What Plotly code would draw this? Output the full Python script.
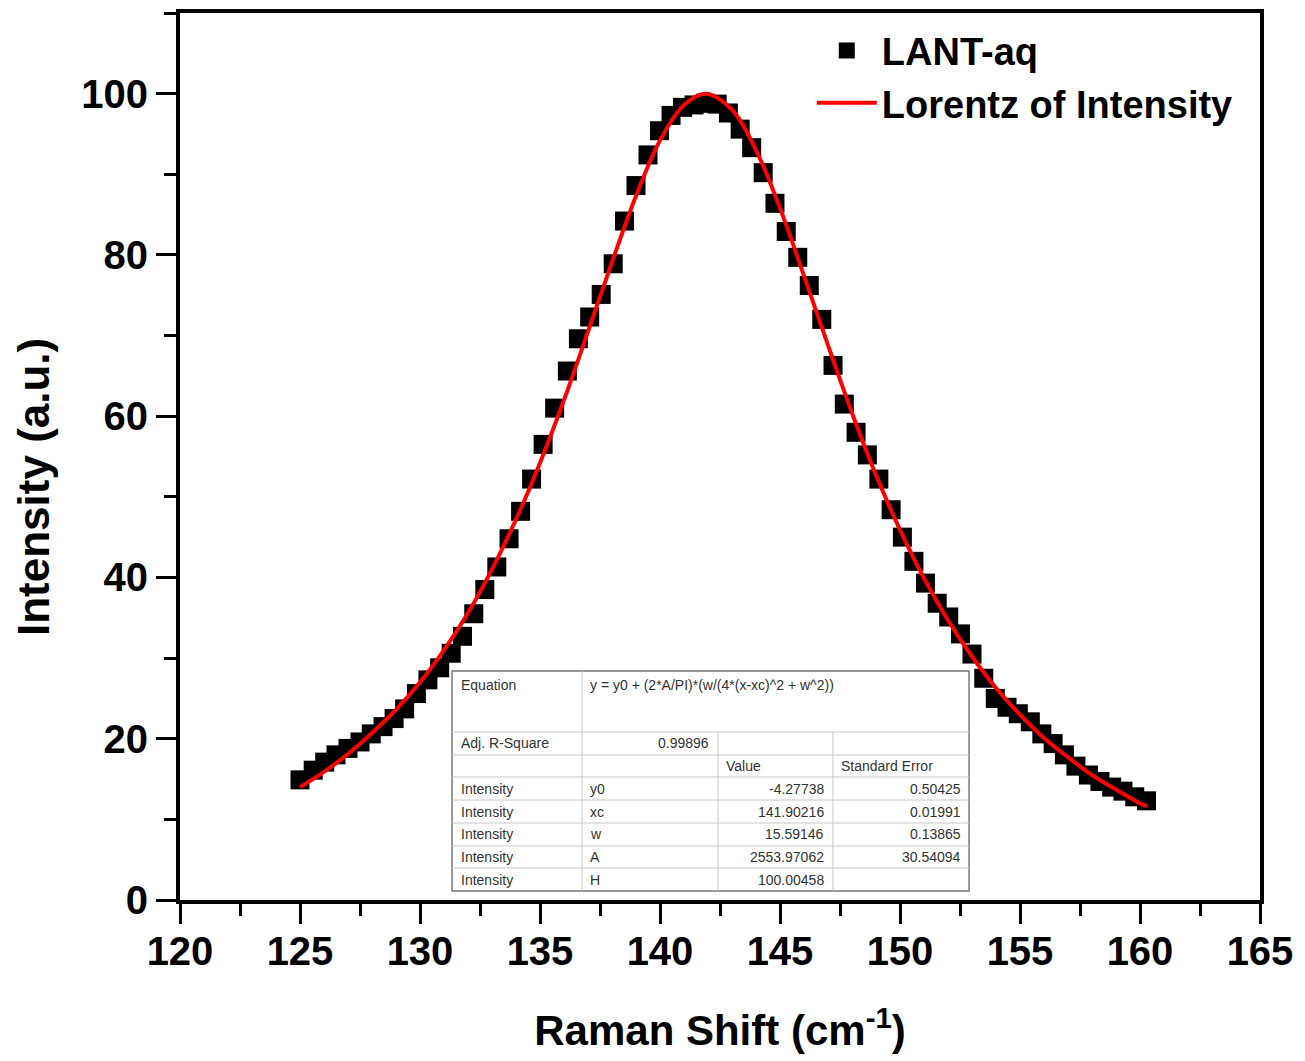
import plotly.graph_objects as go

# ---------------- data ----------------
raman_shift = [125.0, 125.55, 126.03, 126.5, 127.0, 127.5, 127.97, 128.46, 128.92, 129.36,
               129.85, 130.33, 130.82, 131.3, 131.77, 132.24, 132.7, 133.2, 133.71, 134.19,
               134.65, 135.13, 135.61, 136.14, 136.6, 137.07, 137.55, 138.05, 138.52, 139.0,
               139.5, 139.98, 140.46, 140.94, 141.42, 141.9, 142.38, 142.85, 143.34, 143.82,
               144.3, 144.79, 145.26, 145.74, 146.22, 146.74, 147.21, 147.68, 148.17, 148.64,
               149.12, 149.63, 150.1, 150.58, 151.06, 151.55, 152.03, 152.52, 153.0, 153.49,
               153.97, 154.46, 154.93, 155.43, 155.91, 156.38, 156.85, 157.33, 157.85, 158.33,
               158.82, 159.29, 159.78, 160.27]
intensity = [14.9, 16.1, 17.1, 18.0, 18.8, 19.6, 20.6, 21.5, 22.5, 23.7,
             25.6, 27.3, 28.8, 30.6, 32.7, 35.5, 38.5, 41.3, 44.8, 48.2,
             52.2, 56.5, 61.0, 65.6, 69.6, 72.3, 75.1, 78.9, 84.2, 88.6,
             92.4, 95.4, 97.3, 98.3, 98.6, 98.8, 98.7, 97.6, 95.6, 93.3,
             90.2, 86.4, 82.9, 79.7, 76.2, 72.0, 66.3, 61.5, 58.0, 55.2,
             52.2, 48.4, 45.0, 42.0, 39.3, 36.8, 35.1, 33.0, 30.5, 27.5,
             25.0, 23.9, 23.1, 22.1, 20.6, 19.4, 18.0, 16.6, 15.5, 14.7,
             14.0, 13.5, 12.8, 12.3]

fit_x = [125, 126, 127, 128, 129, 130, 131, 132, 133, 134, 135, 136, 137, 138, 139, 140,
         141, 141.9, 143, 144, 145, 146, 147, 148, 149, 150, 151, 152, 153, 154, 155, 156,
         157, 158, 159, 160, 160.3]
fit_y = [14.0, 15.9, 18.1, 20.7, 23.6, 27.0, 31.0, 35.6, 41.0, 47.2, 54.2, 62.0, 70.5, 79.1,
         87.3, 94.2, 98.6, 100.0, 98.0, 93.0, 85.8, 77.4, 68.8, 60.4, 52.7, 45.9, 39.9, 34.7,
         30.2, 26.3, 23.0, 20.1, 17.7, 15.5, 13.7, 12.0, 11.6]

series_names = ["LANT-aq", "Lorentz of Intensity"]

x_tick_vals = [120, 125, 130, 135, 140, 145, 150, 155, 160, 165]
y_tick_vals = [0, 20, 40, 60, 80, 100]

x_title = "Raman Shift (cm<sup>-1</sup>)"
y_title = "Intensity (a.u.)"

equation_text = "y = y0 + (2*A/PI)*(w/(4*(x-xc)^2 + w^2))"
adj_r_square = "0.99896"
param_header = ["", "", "Value", "Standard Error"]
param_rows = [
    ["Intensity", "y0", "-4.27738", "0.50425"],
    ["Intensity", "xc", "141.90216", "0.01991"],
    ["Intensity", "w", "15.59146", "0.13865"],
    ["Intensity", "A", "2553.97062", "30.54094"],
    ["Intensity", "H", "100.00458", ""],
]

# ---------------- figure ----------------
FONT = "Liberation Sans, Arial, sans-serif"

fig = go.Figure()
fig.add_trace(go.Scatter(
    x=raman_shift, y=intensity, mode="markers", name=series_names[0],
    marker=dict(symbol="square", size=19, color="black", line=dict(width=0)),
))
fig.add_trace(go.Scatter(
    x=fit_x, y=fit_y, mode="lines", name=series_names[1],
    line=dict(color="#ff0000", width=4, shape="spline"),
))

axis_common = dict(
    showline=True, linecolor="black", linewidth=4, mirror=True,
    ticks="outside", ticklen=20, tickwidth=3, tickcolor="black",
    showgrid=False, zeroline=False,
    tickfont=dict(family=FONT, size=40, color="black", weight="bold"),
)

fig.update_xaxes(
    range=[120, 165], tickvals=x_tick_vals, ticklabelstandoff=-7,
    minor=dict(dtick=2.5, tick0=120, ticklen=12, tickwidth=3, tickcolor="black", ticks="outside", showgrid=False),
    title=dict(text=x_title, font=dict(family=FONT, size=42, color="black", weight="bold"), standoff=45),
    **axis_common,
)
fig.update_yaxes(
    range=[0, 110], tickvals=y_tick_vals,
    minor=dict(dtick=10, tick0=0, ticklen=12, tickwidth=3, tickcolor="black", ticks="outside", showgrid=False),
    **axis_common,
)

# ---------------- fit-result table (paper coordinates) ----------------
col_edges = [0.2519, 0.3722, 0.4981, 0.6046, 0.7306]
row_edges = [0.2582, 0.1894, 0.1635, 0.1387, 0.1127, 0.0868, 0.0609, 0.0361, 0.0101]
inner = dict(color="#c8c8c8", width=1)
tfont = dict(family=FONT, size=14, color="#333333")

shapes = [dict(type="rect", xref="paper", yref="paper",
               x0=col_edges[0], x1=col_edges[-1], y0=row_edges[-1], y1=row_edges[0],
               fillcolor="white", line=dict(color="#777777", width=1.5), layer="above")]
for yy in row_edges[1:-1]:
    shapes.append(dict(type="line", xref="paper", yref="paper", x0=col_edges[0], x1=col_edges[-1],
                       y0=yy, y1=yy, line=inner, layer="above"))
shapes.append(dict(type="line", xref="paper", yref="paper", x0=col_edges[1], x1=col_edges[1],
                   y0=row_edges[-1], y1=row_edges[0], line=inner, layer="above"))
for xx in col_edges[2:4]:
    shapes.append(dict(type="line", xref="paper", yref="paper", x0=xx, x1=xx,
                       y0=row_edges[-1], y1=row_edges[1], line=inner, layer="above"))

pad = 0.006
annotations = [dict(text=y_title, textangle=-90, x=33, y=487, xref="paper", yref="paper",
                    showarrow=False, font=dict(family=FONT, size=44, color="black", weight="bold"))]
# convert pixel position of y title to paper coords
annotations[0]["x"] = (33 - 180) / 1080
annotations[0]["y"] = (900 - 487) / 887
annotations[0]["xanchor"] = "center"
annotations[0]["yanchor"] = "middle"


def cell(text, col, row, align="left", top=False):
    if top:
        y = row_edges[row] - 0.004
        yanchor = "top"
    else:
        y = (row_edges[row] + row_edges[row + 1]) / 2
        yanchor = "middle"
    if align == "left":
        x, xanchor = col_edges[col] + pad, "left"
    else:
        x, xanchor = col_edges[col + 1] - pad, "right"
    annotations.append(dict(text=text, x=x, y=y, xref="paper", yref="paper",
                            xanchor=xanchor, yanchor=yanchor, showarrow=False, font=tfont))


cell("Equation", 0, 0, top=True)
cell(equation_text, 1, 0, top=True)
cell("Adj. R-Square", 0, 1)
cell(adj_r_square, 1, 1, align="right")
cell(param_header[2], 2, 2)
cell(param_header[3], 3, 2)
for i, r in enumerate(param_rows):
    cell(r[0], 0, 3 + i)
    cell(r[1], 1, 3 + i)
    cell(r[2], 2, 3 + i, align="right")
    if r[3]:
        cell(r[3], 3, 3 + i, align="right")

fig.update_layout(
    width=1305, height=1061,
    margin=dict(l=180, r=45, t=13, b=161, autoexpand=False),
    paper_bgcolor="white", plot_bgcolor="white",
    showlegend=True,
    legend=dict(x=0.585, y=0.993, xanchor="left", yanchor="top",
                bgcolor="rgba(0,0,0,0)", borderwidth=0,
                font=dict(family=FONT, size=38, color="black", weight="bold"),
                tracegroupgap=0, itemwidth=60),
    shapes=shapes, annotations=annotations,
)

fig.write_html("out.html")
